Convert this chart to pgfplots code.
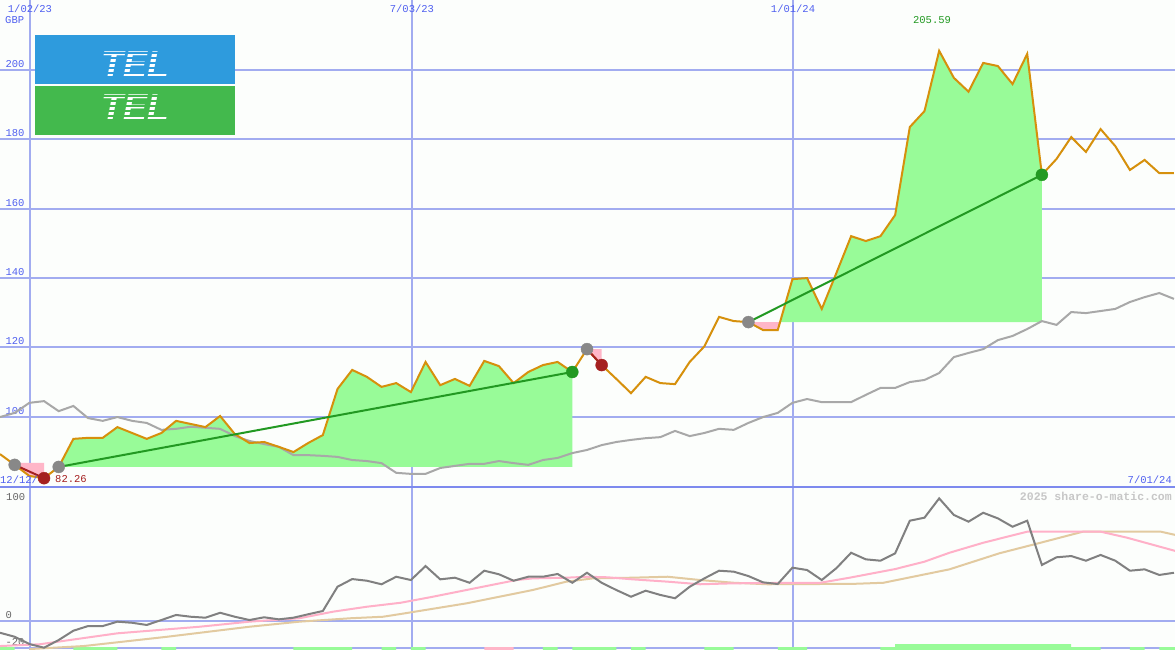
\documentclass[border=0pt]{standalone}
\usepackage{fontspec}
\setmainfont{Liberation Mono}
\newfontfamily\logofont{Liberation Sans}
\usepackage{pgfplots}
\pgfplotsset{compat=1.18}
\usepackage{pgfplotstable}
\definecolor{bg}{RGB}{252,254,252}
\definecolor{gridblue}{RGB}{162,172,240}
\definecolor{sepblue}{RGB}{125,138,238}
\definecolor{labblue}{RGB}{80,96,240}
\definecolor{priceor}{RGB}{214,144,12}
\definecolor{idxgrey}{RGB}{168,168,168}
\definecolor{momgrey}{RGB}{128,128,128}
\definecolor{mapink}{RGB}{255,176,200}
\definecolor{matan}{RGB}{226,202,160}
\definecolor{fillgreen}{RGB}{152,251,152}
\definecolor{fillpink}{RGB}{255,182,200}
\definecolor{tradegreen}{RGB}{34,153,34}
\definecolor{tradered}{RGB}{165,32,32}
\definecolor{markgrey}{RGB}{136,136,136}
\definecolor{logoblue}{RGB}{46,155,221}
\definecolor{logogreen}{RGB}{67,185,77}

\pgfplotstableread{
k v
0 89.2
1 86.1
2 82.9
3 82.26
4 85.5
5 93.6
6 93.9
7 93.9
8 97.0
9 95.3
10 93.6
11 95.3
12 98.8
13 97.9
14 97.0
15 100.2
16 95.0
17 92.4
18 92.7
19 91.3
20 89.8
21 92.4
22 94.7
23 108.0
24 113.5
25 111.5
26 108.6
27 109.7
28 107.1
29 115.8
30 109.1
31 110.9
32 108.9
33 116.1
34 114.6
35 109.7
36 112.9
37 114.9
38 115.8
39 112.9
40 119.5
41 114.9
42 110.9
43 106.8
44 111.5
45 109.7
46 109.4
47 115.8
48 120.3
49 128.8
50 127.6
51 127.3
52 125.0
53 125.0
54 139.7
55 140.0
56 131.1
57 141.5
58 152.1
59 150.7
60 152.1
61 158.2
62 183.6
63 188.2
64 205.59
65 197.8
66 193.8
67 202.1
68 201.2
69 196.0
70 204.7
71 169.8
72 174.4
73 180.7
74 176.4
75 183.0
76 178.1
77 171.2
78 174.1
79 170.3
80 170.3
}\price

\pgfplotstableread{
k v
0 99.9
1 101.1
2 104.0
3 104.5
4 101.6
5 103.1
6 99.6
7 98.8
8 99.9
9 98.8
10 98.2
11 96.2
12 96.5
13 97.1
14 96.8
15 96.5
16 94.4
17 93.0
18 92.1
19 91.3
20 88.9
21 88.9
22 88.7
23 88.4
24 87.5
25 87.2
26 86.6
27 83.8
28 83.5
29 83.5
30 85.2
31 85.8
32 86.4
33 86.4
34 87.2
35 86.6
36 86.1
37 87.5
38 88.1
39 89.5
40 90.4
41 91.8
42 92.7
43 93.3
44 93.8
45 94.1
46 95.9
47 94.4
48 95.3
49 96.5
50 96.2
51 98.2
52 99.9
53 101.1
54 104.0
55 105.1
56 104.2
57 104.2
58 104.2
59 106.3
60 108.3
61 108.3
62 110.0
63 110.6
64 112.6
65 117.2
66 118.4
67 119.5
68 122.1
69 123.3
70 125.3
71 127.6
72 126.5
73 130.2
74 129.9
75 130.5
76 131.1
77 133.1
78 134.5
79 135.7
80 134.0
}\index

\pgfplotstableread{
k v
0 -8.8
1 -11.7
2 -17.0
3 -19.7
4 -14.1
5 -7.3
6 -3.9
7 -3.9
8 -0.7
9 -1.5
10 -3.1
11 0.5
12 4.2
13 2.9
14 2.2
15 5.8
16 2.9
17 0.5
18 2.5
19 1.0
20 2.2
21 4.7
22 7.1
23 24.8
24 30.4
25 29.2
26 26.6
27 32.1
28 29.7
29 39.9
30 30.2
31 31.4
32 27.7
33 36.5
34 33.9
35 29.2
36 32.1
37 32.1
38 34.1
39 27.7
40 35.0
41 27.7
42 22.4
43 17.5
44 21.9
45 18.8
46 16.4
47 24.8
48 30.9
49 36.5
50 35.8
51 32.6
52 28.0
53 26.8
54 38.7
55 37.0
56 29.7
57 38.4
58 49.6
59 44.8
60 43.8
61 49.2
62 73.0
63 75.2
64 89.3
65 77.2
66 72.3
67 78.8
68 74.7
69 68.6
70 73.0
71 40.7
72 46.3
73 47.2
74 43.8
75 48.0
76 43.8
77 36.5
78 37.5
79 33.4
80 35.0
}\mom

\pgfplotstableread{
k v
0 -18.5
2.7 -17.2
8.0 -9.2
13.6 -4.4
17.0 -0.7
20.4 1.8
22.7 6.6
25.0 10.2
27.3 13.1
29.5 17.5
32.9 24.8
35.2 29.7
36.3 30.9
38.6 31.4
40.0 32.1
41.4 31.7
43.1 30.2
45.5 28.5
47.7 26.6
50.0 27.3
54.5 27.7
55.9 27.7
57.9 31.4
61.0 37.7
63.0 43.1
64.7 49.6
67.0 56.9
70.0 65.0
75.0 65.0
76.8 60.6
80.1 50.9
}\mapink

\pgfplotstableread{
k v
2.0 -20.7
5.7 -18.5
11.4 -11.7
17.0 -4.4
20.4 -0.7
23.9 1.8
26.1 2.9
27.3 4.9
31.8 12.7
36.3 22.4
38.6 28.5
40.4 30.9
43.1 31.4
45.5 32.1
47.7 29.7
50.0 27.7
52.3 26.6
55.9 26.8
57.9 26.8
60.2 27.7
64.7 37.5
68.1 49.2
70.9 56.9
73.8 65.0
79.1 65.0
80.1 62.6
}\matan

\begin{document}
\begin{tikzpicture}
\useasboundingbox (0pt,0pt) rectangle (1175pt,-650pt);
\fill[bg] (0pt,0pt) rectangle (1175pt,-650pt);

% ---------------- upper panel ----------------
\begin{axis}[name=upper, at={(0pt,0pt)}, anchor=north west,
  scale only axis, width=1175pt, height=487pt,
  xmin=0, xmax=80.07, ymin=79.71, ymax=220.26,
  axis line style={draw=none}, major tick length=0pt,
  xtick={2.044,28.07,54.04}, xticklabels={1/02/23,7/03/23,1/01/24},
  xticklabel pos=upper,
  xticklabel style={anchor=north, text=labblue, font=\fontsize{10.5}{12}\selectfont, yshift=-1pt},
  ytick={100,120,140,160,180,200}, yticklabels={100,120,140,160,180,200},
  yticklabel style={anchor=south west, text=labblue, font=\fontsize{10.5}{12}\selectfont, xshift=2pt, yshift=-1pt},
  xmajorgrids, ymajorgrids,
  major x grid style={gridblue, line width=1.5pt},
  major y grid style={gridblue, line width=2pt},
  clip=false]
% trade areas
\addplot[draw=none, fill=fillpink] coordinates {(1,86.7)(2,82.9)(3,82.26)(3,86.7)};
\addplot[draw=none, fill=fillgreen] coordinates {(4,85.5)(5,93.6)(6,93.9)(7,93.9)(8,97.0)(9,95.3)(10,93.6)(11,95.3)(12,98.8)(13,97.9)(14,97.0)(15,100.2)(16,95.0)(17,92.4)(18,92.7)(19,91.3)(20,89.8)(21,92.4)(22,94.7)(23,108.0)(24,113.5)(25,111.5)(26,108.6)(27,109.7)(28,107.1)(29,115.8)(30,109.1)(31,110.9)(32,108.9)(33,116.1)(34,114.6)(35,109.7)(36,112.9)(37,114.9)(38,115.8)(39,112.9)(39,85.5)};
\addplot[draw=none, fill=fillpink] coordinates {(40,119.5)(41,114.9)(41,119.5)};
\addplot[draw=none, fill=fillpink] coordinates {(51,127.3)(52,125.0)(53,125.0)(53.16,127.3)};
\addplot[draw=none, fill=fillgreen] coordinates {(53.16,127.3)(54,139.7)(55,140.0)(56,131.1)(57,141.5)(58,152.1)(59,150.7)(60,152.1)(61,158.2)(62,183.6)(63,188.2)(64,205.59)(65,197.8)(66,193.8)(67,202.1)(68,201.2)(69,196.0)(70,204.7)(71,169.8)(71,127.3)};
% index and price
\addplot[idxgrey, line width=2pt] table[x=k, y=v] {\index};
\addplot[priceor, line width=2pt] table[x=k, y=v] {\price};
% trade lines
\addplot[tradered, line width=2pt] coordinates {(1,86.1)(3,82.26)};
\addplot[tradered, line width=2pt] coordinates {(40,119.5)(41,114.9)};
\addplot[tradegreen, line width=2pt] coordinates {(4,85.5)(39,112.9)};
\addplot[tradegreen, line width=2pt] coordinates {(51,127.3)(71,169.8)};
% markers
\addplot[only marks, mark=*, mark size=6pt, color=markgrey] coordinates {(1,86.1)(4,85.5)(40,119.5)(51,127.3)};
\addplot[only marks, mark=*, mark size=6pt, color=tradered] coordinates {(3,82.26)(41,114.9)};
\addplot[only marks, mark=*, mark size=6pt, color=tradegreen] coordinates {(39,112.9)(71,169.8)};
\end{axis}

% ---------------- lower panel ----------------
\begin{axis}[name=lower, at={(0pt,-487pt)}, anchor=north west,
  scale only axis, width=1175pt, height=163pt,
  xmin=0, xmax=80.07, ymin=-21.39, ymax=97.6,
  axis line style={draw=none}, major tick length=0pt,
  xtick={2.044,28.07,54.04}, xticklabels={},
  ytick={-20,0}, yticklabels={-20,0},
  yticklabel style={anchor=south west, text=black!60, font=\fontsize{10.5}{12}\selectfont, xshift=2pt, yshift=-1pt},
  xmajorgrids, ymajorgrids,
  major x grid style={gridblue, line width=1.5pt},
  major y grid style={gridblue, line width=2pt},
  clip=true]
\addplot[const plot, draw=none, fill=fillgreen] coordinates {(0,-21.39)(0,-19.2)(1,-21.39)(5,-19.2)(8,-21.39)(11,-19.2)(12,-21.39)(20,-19.2)(24,-21.39)(26,-19.2)(27,-21.39)(28,-19.2)(29,-21.39)(37,-19.2)(38,-21.39)(39,-19.2)(42,-21.39)(43,-19.2)(44,-21.39)(48,-19.2)(50,-21.39)(53,-19.2)(55,-21.39)(60,-19.2)(61,-17.0)(73,-19.2)(75,-21.39)(77,-19.2)(78,-21.39)(79,-19.2)(80.2,-21.39)};
\addplot[const plot, draw=none, fill=fillpink] coordinates {(33,-21.39)(33,-19.2)(35,-21.39)};
\addplot[matan, line width=2pt] table[x=k, y=v] {\matan};
\addplot[mapink, line width=2pt] table[x=k, y=v] {\mapink};
\addplot[momgrey, line width=2pt] table[x=k, y=v] {\mom};
\end{axis}

% separator
\draw[sepblue, line width=2.2pt] (0pt,-487pt) -- (1175pt,-487pt);

% texts
\node[anchor=west, text=labblue, font=\fontsize{10.5}{12}\selectfont, inner sep=0pt] at (5pt,-20pt) {GBP};
\node[anchor=west, text=labblue, font=\fontsize{10.5}{12}\selectfont, inner sep=0pt] at (0pt,-480pt) {12/12/};
\node[anchor=east, text=labblue, font=\fontsize{10.5}{12}\selectfont, inner sep=0pt] at (1172pt,-480pt) {7/01/24};
\node[anchor=west, text=tradered, font=\fontsize{10.5}{12}\selectfont, inner sep=0pt] at (55pt,-479pt) {82.26};
\node[text=tradegreen, font=\fontsize{10.5}{12}\selectfont, inner sep=0pt] at (932pt,-20pt) {205.59};
\node[anchor=west, text=black!60, font=\fontsize{10.5}{12}\selectfont, inner sep=0pt] at (6pt,-497pt) {100};
\node[anchor=east, text=black!22, font=\bfseries\fontsize{11.5}{12}\selectfont, inner sep=0pt] at (1172pt,-496pt) {2025 share-o-matic.com};

% logo
\fill[logoblue] (35pt,-35pt) rectangle (235pt,-84pt);
\fill[logogreen] (35pt,-86pt) rectangle (235pt,-135pt);
\node[text=white, font=\logofont\bfseries\itshape\fontsize{36}{36}\selectfont, inner sep=0pt] at (135pt,-107pt) {TEL};
\node[text=white, font=\logofont\bfseries\itshape\fontsize{36}{36}\selectfont, inner sep=0pt] at (135pt,-64pt) {TEL};
\foreach \yy in {96,101,106,111,116} {\draw[logogreen, line width=1.6pt] (85pt,-\yy pt) -- (185pt,-\yy pt);}
\foreach \yy in {53,58,63,68,73} {\draw[logoblue, line width=1.6pt] (85pt,-\yy pt) -- (185pt,-\yy pt);}
\end{tikzpicture}
\end{document}
